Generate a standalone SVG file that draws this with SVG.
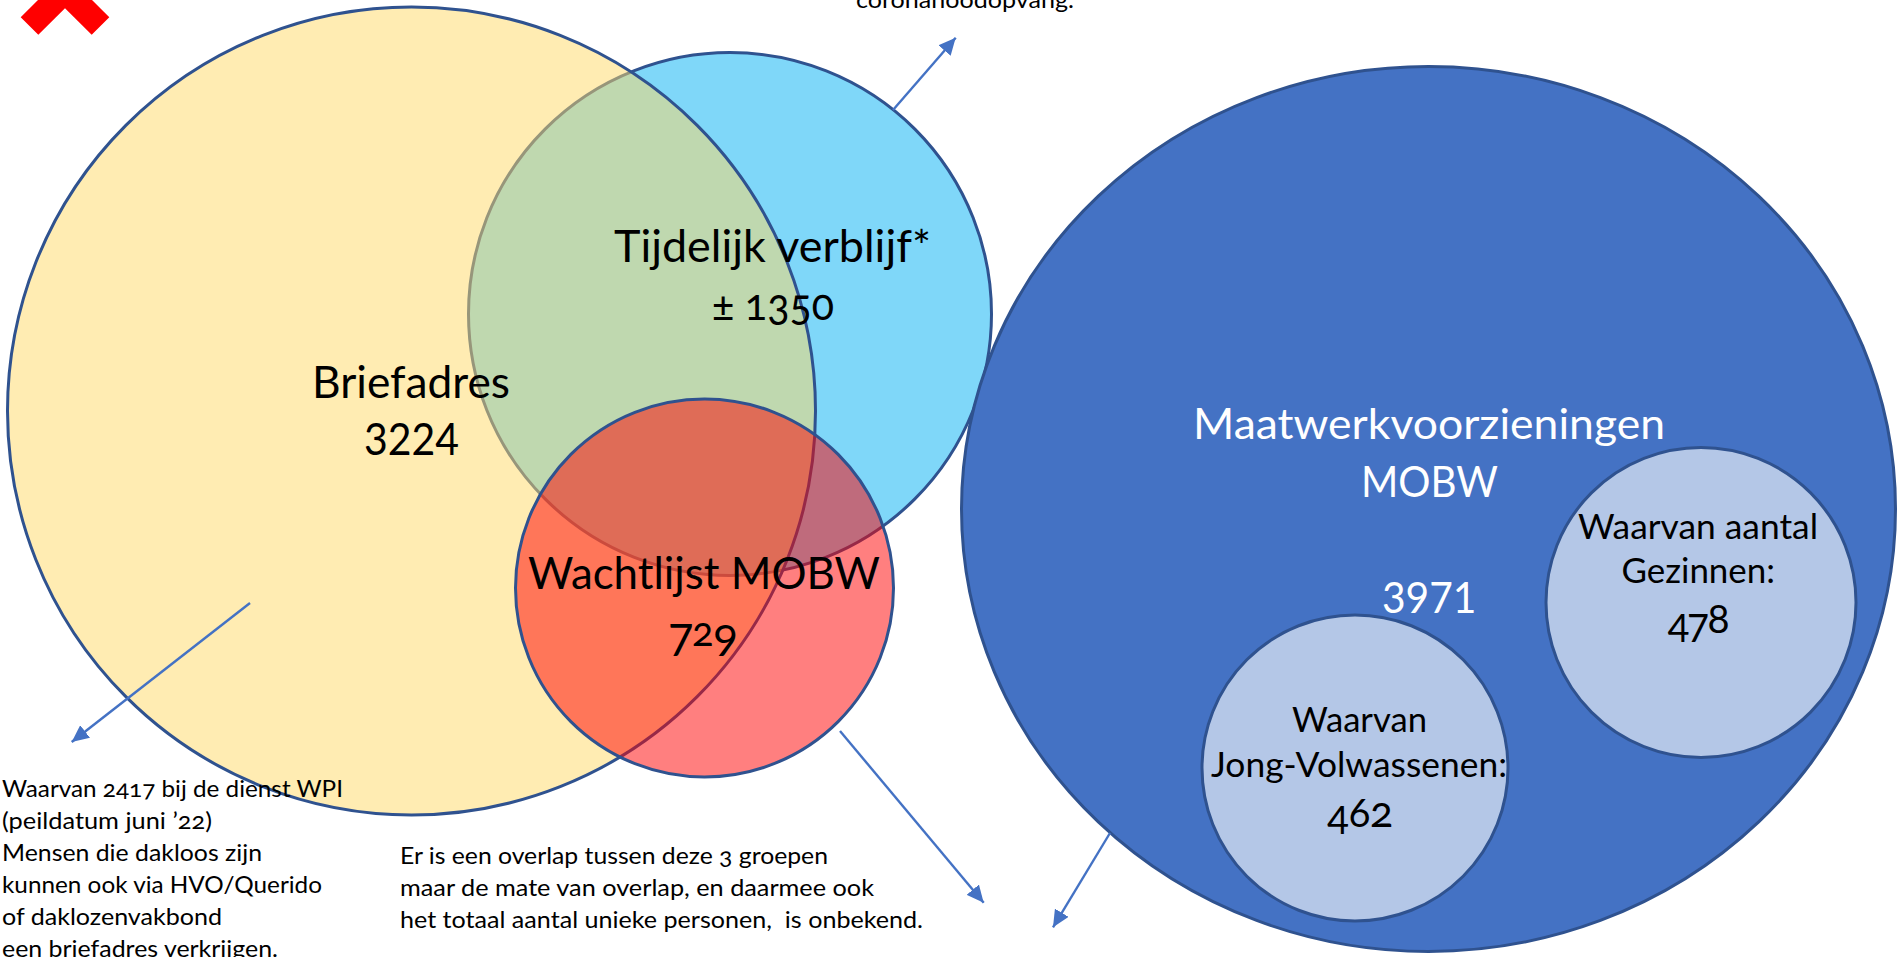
<svg xmlns="http://www.w3.org/2000/svg" width="1897" height="957" viewBox="0 0 1897 957">
<style>
text{font-family:"Lato","Open Sans","Liberation Sans",sans-serif;fill:#000;font-feature-settings:"onum"}
text.lnum{font-feature-settings:"lnum"}
tspan.onum{font-feature-settings:"onum"}
.ring{stroke:#2F528F;stroke-width:3}
.l{font-size:44px}
.m{font-size:34px}
.s{font-size:24px}
.w{fill:#fff;font-size:43px}
.arr{fill:none;stroke:#4472C4;stroke-width:2.4;marker-end:url(#head)}
</style>
<defs>
<marker id="head" markerUnits="userSpaceOnUse" markerWidth="18" markerHeight="16" refX="17" refY="8" orient="auto"><polygon points="0,0 17,8 0,16" fill="#4472C4"/></marker>
</defs>
<rect width="1897" height="957" fill="#fff"/>
<g id="logo"><polygon points="38,0 20.7,17.3 38.3,34.7 65,8.3 91.7,34.7 109.3,17.3 92,0" fill="#FF0000"/></g>
<g id="tijdelijk"><circle class="ring" cx="730" cy="314" r="261.5" fill="#7FD7F9"/></g>
<g id="briefadres"><circle class="ring" cx="411.5" cy="411" r="404" fill="#FFD966" fill-opacity=".5"/></g>
<g id="wachtlijst"><circle class="ring" cx="704.5" cy="588" r="189" fill="#FF0000" fill-opacity=".5"/></g>
<g id="maatwerk"><ellipse class="ring" cx="1428.5" cy="509" rx="467" ry="442.5" fill="#4472C4"/></g>
<g id="gezinnen"><circle class="ring" cx="1701" cy="602.5" r="155" fill="#B4C7E7"/></g>
<g id="jong"><circle class="ring" cx="1355" cy="768" r="153" fill="#B4C7E7"/></g>
<g id="connectors">
<line class="arr" x1="893" y1="110" x2="955.7" y2="37.7"/>
<line class="arr" x1="840" y1="731" x2="983.7" y2="902.7"/>
<line class="arr" x1="1110" y1="833" x2="1053" y2="927.3"/>
<line class="arr" x1="250" y1="603" x2="71.7" y2="742"/>
</g>
<g id="labels">
<text class="l" x="312" y="398" textLength="198" lengthAdjust="spacingAndGlyphs">Briefadres</text>
<text class="l lnum" x="364" y="455" textLength="95" lengthAdjust="spacingAndGlyphs">3224</text>
<text class="l" x="614" y="262" textLength="317" lengthAdjust="spacingAndGlyphs">Tijdelijk verblijf*</text>
<text class="l" x="712" y="320" textLength="122" lengthAdjust="spacingAndGlyphs">± 1350</text>
<text class="l" x="528" y="589" textLength="352" lengthAdjust="spacingAndGlyphs">Wachtlijst MOBW</text>
<text class="l lnum"><tspan x="668" y="656">7</tspan><tspan class="onum" style="font-size:40px" x="692" y="646">2</tspan><tspan style="font-size:43px" x="713" y="656">9</tspan></text>
<text class="w" x="1193" y="439" textLength="472" lengthAdjust="spacingAndGlyphs">Maatwerkvoorzieningen</text>
<text class="w" x="1361" y="497" textLength="137" lengthAdjust="spacingAndGlyphs">MOBW</text>
<text class="w lnum" x="1382" y="613" textLength="94.5" lengthAdjust="spacingAndGlyphs">3971</text>
<text class="m" x="1578" y="538.5" textLength="240" lengthAdjust="spacingAndGlyphs">Waarvan aantal</text>
<text class="m" x="1621.5" y="583" textLength="153.5" lengthAdjust="spacingAndGlyphs">Gezinnen:</text>
<text class="m lnum" style="font-size:38px"><tspan x="1667.5" y="642">4</tspan><tspan x="1687" y="642">7</tspan><tspan x="1707.5" y="633">8</tspan></text>
<text class="m" x="1292" y="732" textLength="135" lengthAdjust="spacingAndGlyphs">Waarvan</text>
<text class="m" x="1211" y="776.5" textLength="296" lengthAdjust="spacingAndGlyphs">Jong-Volwassenen:</text>
<text class="m lnum" style="font-size:38px"><tspan x="1327" y="834">4</tspan><tspan x="1348.5" y="827">6</tspan><tspan class="onum" style="font-size:43px" x="1370" y="827">2</tspan></text>
<text class="s" x="856" y="8" textLength="218" lengthAdjust="spacingAndGlyphs">coronanoodopvang.</text>
<text class="s" x="2" y="797" textLength="341" lengthAdjust="spacingAndGlyphs">Waarvan 2417 bij de dienst WPI</text>
<text class="s" x="2" y="829" textLength="210" lengthAdjust="spacingAndGlyphs">(peildatum juni ’22)</text>
<text class="s" x="2" y="861" textLength="260" lengthAdjust="spacingAndGlyphs">Mensen die dakloos zijn</text>
<text class="s" x="2" y="893" textLength="320" lengthAdjust="spacingAndGlyphs">kunnen ook via HVO/Querido</text>
<text class="s" x="2" y="925" textLength="220" lengthAdjust="spacingAndGlyphs">of daklozenvakbond</text>
<text class="s" x="2" y="957" textLength="276" lengthAdjust="spacingAndGlyphs">een briefadres verkrijgen.</text>
<text class="s" x="400" y="864" textLength="428" lengthAdjust="spacingAndGlyphs">Er is een overlap tussen deze 3 groepen</text>
<text class="s" x="400" y="896" textLength="474" lengthAdjust="spacingAndGlyphs">maar de mate van overlap, en daarmee ook</text>
<text class="s" x="400" y="928" textLength="523" lengthAdjust="spacingAndGlyphs" xml:space="preserve">het totaal aantal unieke personen,  is onbekend.</text>
</g>
</svg>
